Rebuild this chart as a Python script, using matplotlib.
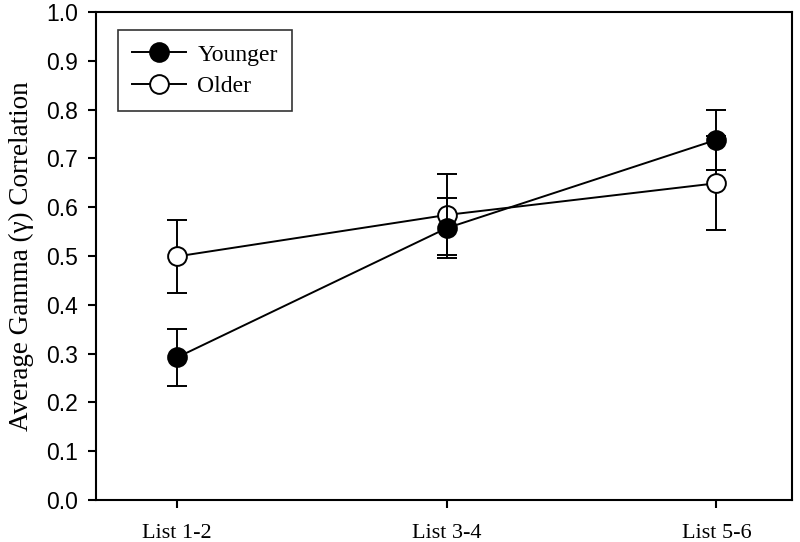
import numpy as np
import matplotlib.pyplot as plt
from matplotlib.lines import Line2D

# values
lists = ['List 1-2', 'List 3-4', 'List 5-6']
younger = [0.292, 0.557, 0.738]
younger_err = [0.058, 0.062, 0.061]
older = [0.499, 0.584, 0.649]
older_err = [0.075, 0.083, 0.096]

x = np.arange(len(lists))

fig = plt.figure(figsize=(8, 5.42), dpi=100)
ax = fig.add_axes([0.12, 0.0775, 0.87, 0.9005])

# older first so the younger markers sit on top
ax.errorbar(x, older, yerr=older_err, color='black', lw=1.4, elinewidth=1.4,
            capsize=7.5, capthick=1.4, marker='o', ms=13.5, mfc='white',
            mec='black', mew=1.4, zorder=2)
ax.errorbar(x, younger, yerr=younger_err, color='black', lw=1.4, elinewidth=1.4,
            capsize=7.5, capthick=1.4, marker='o', ms=13.5, mfc='black',
            mec='black', mew=1.4, zorder=3)

ax.set_xlim(-0.3, 2.28)
ax.set_ylim(0, 1.0)
ax.set_xticks(x)
ax.set_xticklabels(lists, family='Liberation Serif', fontsize=16)
ax.set_yticks(np.arange(0, 1.01, 0.1))
ax.set_yticklabels(['%.1f' % v for v in np.arange(0, 1.01, 0.1)],
                   family='Liberation Sans', fontsize=16.5)
ax.tick_params(direction='out', length=6, width=1.5)
ax.tick_params(axis='x', pad=11)
ax.tick_params(axis='y', pad=7)
for sp in ax.spines.values():
    sp.set_linewidth(1.5)

ax.set_ylabel('Average Gamma (\u03b3) Correlation', family='Liberation Serif',
              fontsize=19.5, labelpad=9)

handles = [Line2D([], [], color='black', lw=1.4, marker='o', ms=13.5,
                  mfc='black', mec='black', mew=1.4),
           Line2D([], [], color='black', lw=1.4, marker='o', ms=13.5,
                  mfc='white', mec='black', mew=1.4)]
leg = ax.legend(handles, ['Younger', 'Older'], loc='upper left',
                bbox_to_anchor=(0.032, 0.963), borderaxespad=0, fancybox=False,
                edgecolor='black', prop={'family': 'Liberation Serif', 'size': 17},
                handlelength=2.25, handletextpad=0.5, borderpad=0.6,
                labelspacing=0.42)
leg.get_frame().set_linewidth(1.2)

fig.savefig('out.png')
